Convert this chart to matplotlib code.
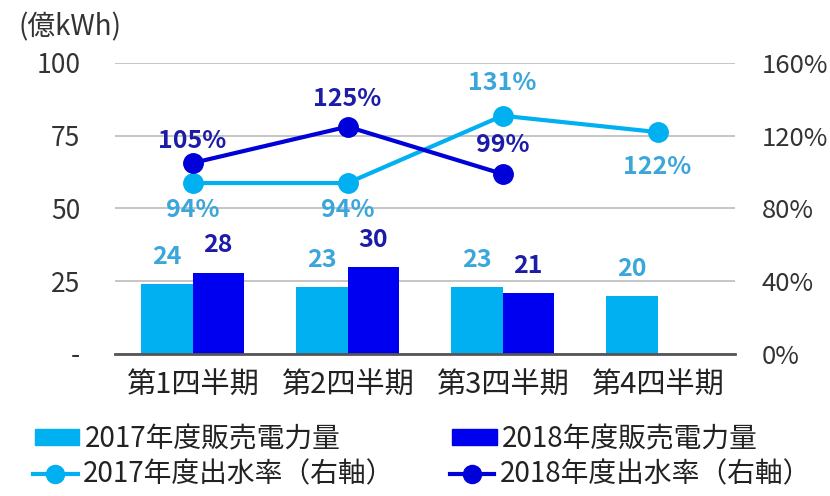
import matplotlib
matplotlib.use("Agg")
import matplotlib.pyplot as plt
import numpy as np
from matplotlib.lines import Line2D
from matplotlib.patches import Patch

plt.rcParams['font.family'] = ['Noto Sans CJK JP', 'DejaVu Sans']

quarters = ["第1四半期", "第2四半期", "第3四半期", "第4四半期"]
sales_2017 = [24, 23, 23, 20]
sales_2018 = [28, 30, 21]
water_2017 = [94, 94, 131, 122]
water_2018 = [105, 125, 99]

left_ticks = [0, 25, 50, 75, 100]
left_labels = ["-", "25", "50", "75", "100"]
right_ticks = [0, 40, 80, 120, 160]

c17 = "#00B0F0"
c18 = "#0000F0"
lab17 = "#3AA6DA"
lab18 = "#1C1CA8"
line18 = "#0000D8"

fig = plt.figure(figsize=(8.3, 4.96), dpi=100)
ax = fig.add_axes([0.1386, 0.2863, 0.747, 0.5867])
ax2 = ax.twinx()

x = np.arange(len(quarters))
w = 0.33
ax.bar(x[:len(sales_2017)] - w / 2, sales_2017, w, color=c17, zorder=2)
ax.bar(x[:len(sales_2018)] + w / 2, sales_2018, w, color=c18, zorder=2)

for xi, v in zip(x, sales_2017):
    ax.text(xi - w / 2, v + 9.3, str(v), ha="center", va="center",
            fontsize=18, fontweight="bold", color=lab17)
for xi, v in zip(x, sales_2018):
    ax.text(xi + w / 2, v + 9.3, str(v), ha="center", va="center",
            fontsize=18, fontweight="bold", color=lab18)

ax.set_xlim(-0.5, 3.5)
ax.set_ylim(0, 100)
ax.set_yticks(left_ticks)
ax.set_yticklabels(left_labels, fontsize=19, color="#333333")
ax.set_xticks(x)
ax.set_xticklabels(quarters, fontsize=21, color="#222222")
ax.grid(axis="y", color="#BBBBBB", linewidth=1.2, zorder=0)
ax.set_axisbelow(True)
for s in ["top", "right", "left"]:
    ax.spines[s].set_visible(False)
ax.spines["bottom"].set_color("#555555")
ax.spines["bottom"].set_linewidth(2)
ax.tick_params(axis="x", length=0, pad=12)
ax.tick_params(axis="y", length=0, pad=25)
fig.text(0.022, 0.944, "(億kWh)", fontsize=20, color="#333333",
         ha="left", va="center")

ax2.plot(x[:len(water_2017)], water_2017, color=c17, linewidth=3,
         marker="o", markersize=14, zorder=3)
ax2.plot(x[:len(water_2018)], water_2018, color=line18, linewidth=3,
         marker="o", markersize=14, zorder=4)
ax2.set_ylim(0, 160)
ax2.set_yticks(right_ticks)
ax2.set_yticklabels([f"{t}%" for t in right_ticks], fontsize=18.5, color="#333333")
ax2.tick_params(axis="y", length=0, pad=19)
for s in ax2.spines.values():
    s.set_visible(False)

offs17 = [-15, -15, 18, -19]
for xi, v, o in zip(x, water_2017, offs17):
    ax2.text(xi, v + o, f"{v}%", ha="center", va="center",
             fontsize=18, fontweight="bold", color=lab17, zorder=6)
offs18 = [12, 15, 16]
for xi, v, o in zip(x, water_2018, offs18):
    ax2.text(xi, v + o, f"{v}%", ha="center", va="center",
             fontsize=18, fontweight="bold", color=lab18, zorder=6)

# legend: one entry per box so the two columns line up like the original
legend_items = [
    (Patch(color=c17), "2017年度販売電力量", 0.042, 0.115, 1.6),
    (Patch(color=c18), "2018年度販売電力量", 0.545, 0.115, 1.6),
    (Line2D([], [], color=c17, linewidth=3, marker="o", markersize=13),
     "2017年度出水率（右軸）", 0.040, 0.043, 1.6),
    (Line2D([], [], color=line18, linewidth=3, marker="o", markersize=13),
     "2018年度出水率（右軸）", 0.542, 0.043, 1.6),
]
for h, lab, lx, ly, hl in legend_items:
    fig.legend([h], [lab], loc="center left", bbox_to_anchor=(lx, ly),
               frameon=False, fontsize=20, handlelength=hl, handleheight=0.5,
               handletextpad=0.2, borderpad=0, borderaxespad=0,
               labelcolor="#222222")

fig.savefig("out.png", dpi=100)
